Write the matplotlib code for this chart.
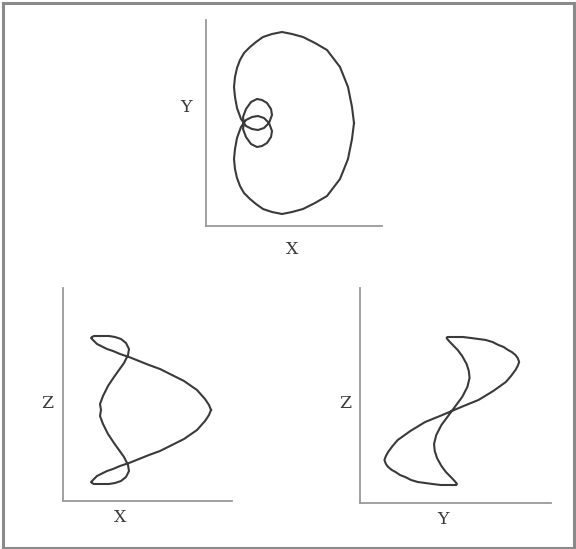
import matplotlib
matplotlib.use('Agg')
import matplotlib.pyplot as plt
import matplotlib.patches as patches

# === 曲线数据 (沿参数顺序读取, 单位: 原图像素, 原点在各轴交点附近) ===
curve_x = [148, 146, 142, 134, 121, 109, 97, 86, 76, 66,
           57, 50, 44, 38, 34, 31, 29, 28, 29, 31,
           35, 40, 46, 52, 58, 63, 66, 65, 61, 56,
           51, 45, 40, 37, 38,
           37, 40, 45, 51, 56, 61, 65, 66, 63, 58,
           52, 46, 40, 35, 31, 29, 28, 29, 31, 34,
           38, 44, 50, 57, 66, 76, 86, 97, 109, 121,
           134, 142, 146, 148]
curve_y = [0, 16, 36, 56, 73, 80, 86, 89, 91, 89,
           86, 81, 76, 70, 63, 55, 46, 36, 26, 15,
           4, -3, -6, -7, -5, 0, 8, 14, 20, 23,
           24, 21, 14, 6, 0,
           -6, -14, -21, -24, -23, -20, -14, -8, 0, 5,
           7, 6, 3, -4, -15, -26, -36, -46, -55, -63,
           -70, -76, -81, -86, -89, -91, -89, -86, -80, -73,
           -56, -36, -16, 0]
curve_z = [0, 5, 11, 20, 29, 35, 41, 45, 49, 53,
           56, 59, 61, 64, 66, 69, 71, 72, 73, 74,
           74, 74, 74, 73, 71, 67, 61, 55, 47, 40,
           33, 24, 14, 6, 0,
           -6, -14, -24, -33, -40, -47, -55, -61, -67, -71,
           -73, -74, -74, -74, -74, -73, -72, -71, -69, -66,
           -64, -61, -59, -56, -53, -49, -45, -41, -35, -29,
           -20, -11, -5, 0]

W, H = 576, 549
LINE_COLOR = '#3a3a3a'
AXIS_COLOR = '#9a9a9a'
FONT = ['DejaVu Serif', 'Liberation Serif']


def px_rect(left, top, right, bottom):
    """像素框 -> figure 坐标"""
    return [left / W, 1 - bottom / H, (right - left) / W, (bottom - top) / H]


def px_text(fig, x, y, s):
    fig.text(x / W, 1 - y / H, s, ha='center', va='center',
             fontsize=12.5, family=FONT, color='#3a3a3a')


def setup_ax(ax, xlim, ylim):
    ax.set_xlim(*xlim)
    ax.set_ylim(*ylim)
    ax.set_xticks([])
    ax.set_yticks([])
    ax.patch.set_alpha(0)
    for side in ('top', 'right'):
        ax.spines[side].set_visible(False)
    for side in ('left', 'bottom'):
        ax.spines[side].set_color(AXIS_COLOR)
        ax.spines[side].set_linewidth(1.3)


fig = plt.figure(figsize=(W / 100, H / 100), dpi=100)
fig.patch.set_facecolor('white')

# 外框
fig.add_artist(patches.Rectangle((2.5 / W, 1.5 / H), (W - 5) / W, (H - 4.5) / H,
                                 transform=fig.transFigure, fill=False,
                                 edgecolor='#8a8a8a', linewidth=2.2))

# --- XY 投影 ---
ax_xy = fig.add_axes(px_rect(206, 20, 382, 226))
setup_ax(ax_xy, (0, 176), (-103, 103))
ax_xy.plot(curve_x, curve_y, color=LINE_COLOR, lw=1.5)
px_text(fig, 186, 108, 'Y')
px_text(fig, 292, 249, 'X')

# --- XZ 投影 ---
ax_xz = fig.add_axes(px_rect(63, 288, 232, 501))
setup_ax(ax_xz, (0, 169), (-91, 122))
ax_xz.plot(curve_x, curve_z, color=LINE_COLOR, lw=1.5)
px_text(fig, 47, 403, 'Z')
px_text(fig, 120, 518, 'X')

# --- YZ 投影 (Y 方向比例较小) ---
ax_yz = fig.add_axes(px_rect(360, 288, 551, 503))
setup_ax(ax_yz, (-124, 134), (-92, 123))
ax_yz.plot(curve_y, curve_z, color=LINE_COLOR, lw=1.5)
px_text(fig, 345, 403, 'Z')
px_text(fig, 443, 520, 'Y')

fig.savefig('out.png', dpi=100, facecolor='white')
plt.close(fig)
